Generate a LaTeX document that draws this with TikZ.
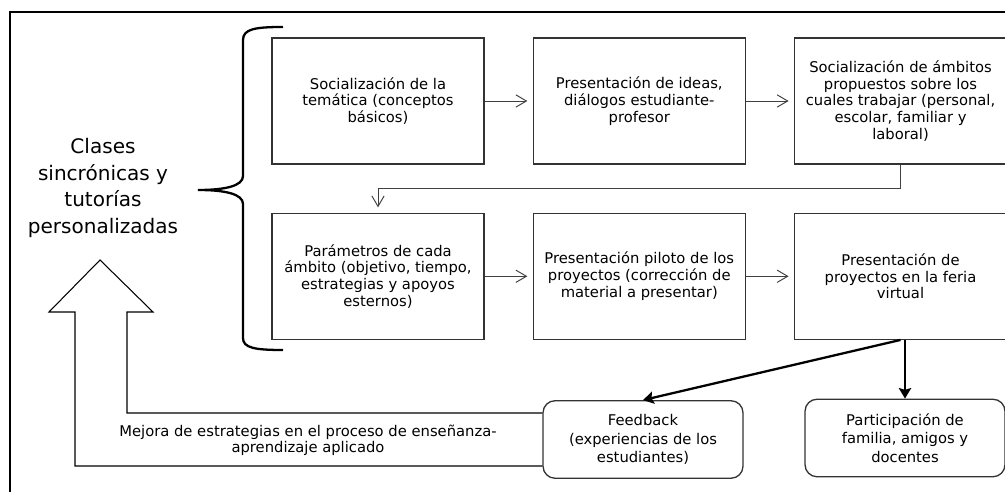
\documentclass[tikz,border=0pt]{standalone}
\usepackage{fontspec}
\setmainfont{DejaVu Sans}
\usetikzlibrary{positioning}
\usetikzlibrary{arrows.meta}
\definecolor{boxedge}{rgb}{0.2,0.2,0.2}
\definecolor{linkgray}{rgb}{0.25,0.25,0.25}

\tikzset{
  stepbox/.style={draw=boxedge, line width=0.75pt, minimum width=4.24cm,
    minimum height=2.52cm, align=center, inner sep=2pt,
    font=\fontsize{8.4}{9.5}\selectfont},
  endbox/.style={draw=boxedge, line width=0.75pt, rounded corners=0.24cm,
    minimum width=4cm, minimum height=1.55cm, align=center,
    font=\fontsize{8.4}{10.4}\selectfont},
  flow/.style={draw=linkgray, line width=0.55pt,
    -{Straight Barb[length=6pt,width=7pt]}, shorten >=3pt},
  heavy/.style={line width=1.3pt, -{Stealth[length=6pt,width=7pt,inset=1pt]}},
}

\begin{document}
\begin{tikzpicture}[x=0.02cm, y=-0.02cm]

  \useasboundingbox (0,0) rectangle (1005,492);

  % frame
  \draw[line width=1.1pt] (10,492) -- (10,12) -- (1005,12);

  % title on the left
  \node[font=\fontsize{11.4}{15.1}\selectfont, align=center] (clases) at (103,188)
    {Clases\\sincrónicas y\\tutorías\\personalizadas};

  % brace
  \draw[line width=1.3pt] (283,27) .. controls (255,27) and (243,29) .. (243,40)
    -- (243,176) .. controls (243,186) and (225,190) .. (198,190)
    .. controls (225,190) and (243,194) .. (243,204)
    -- (243,338) .. controls (243,348) and (255,350) .. (283,350);

  % steps
  \node[stepbox] (s1) at (378,101)
    {Socialización de la\\temática (conceptos\\básicos)};
  \node[stepbox, right=0.96cm of s1] (s2)
    {Presentación de ideas,\\diálogos estudiante-\\profesor};
  \node[stepbox, right=0.96cm of s2] (s3)
    {Socialización de ámbitos\\propuestos sobre los\\cuales trabajar (personal,\\escolar, familiar y\\laboral)};
  \node[stepbox, below=0.96cm of s1] (s4)
    {Parámetros de cada\\ámbito (objetivo, tiempo,\\estrategias y apoyos\\esternos)};
  \node[stepbox, right=0.96cm of s4] (s5)
    {Presentación piloto de los\\proyectos (corrección de\\material a presentar)};
  \node[stepbox, right=0.96cm of s5] (s6)
    {Presentación de\\proyectos en la feria\\virtual};

  % results
  \node[endbox] (fb) at (643,439.5)
    {Feedback\\(experiencias de los\\estudiantes)};
  \node[endbox] (pa) at (905,438)
    {Participación de\\familia, amigos y\\docentes};

  \draw[flow] (s1) -- (s2);
  \draw[flow] (s2) -- (s3);
  \draw[flow] (s3.south) -- ++(0,24) -| (s4.north);
  \draw[flow] (s4) -- (s5);
  \draw[flow] (s5) -- (s6);

  \draw[heavy] (s6.south) -- (fb.north);
  \draw[heavy] (pa.north |- s6.south) -- (pa.north);

  % hollow arrow back to the classes
  \coordinate (ain) at (127,413);
  \coordinate (aout) at (75,466);
  \draw[line width=0.6pt] (fb.west |- ain) -- (ain) -- (127,312) -- (153,312)
    -- (100,260) -- (49,312) -- (75,312) -- (aout) -- (fb.west |- aout);

  \node[font=\fontsize{8.4}{9}\selectfont, align=center] (gain) at (308,440)
    {Mejora de estrategias en el proceso de enseñanza-\\aprendizaje aplicado};

\end{tikzpicture}
\end{document}
